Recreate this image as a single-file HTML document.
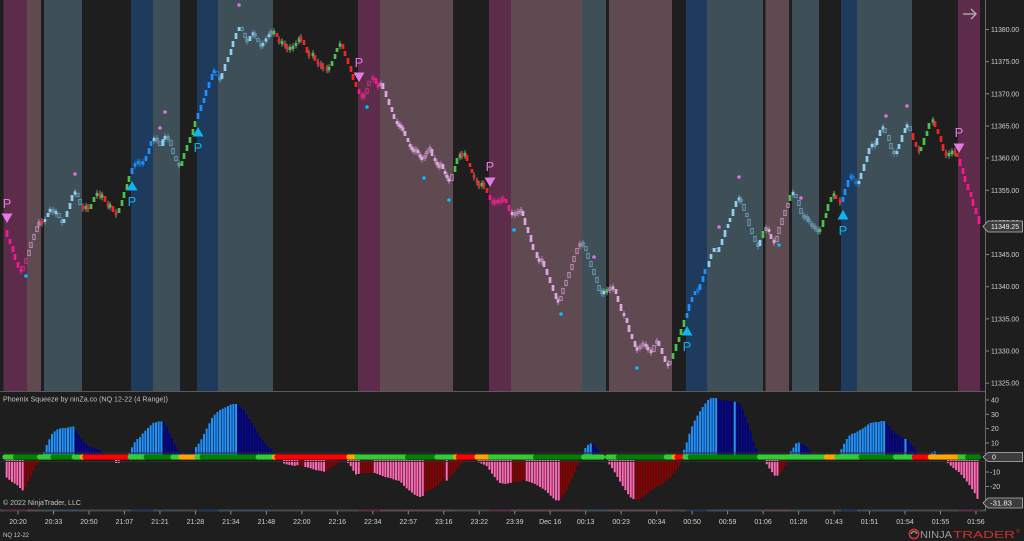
<!DOCTYPE html>
<html><head><meta charset="utf-8">
<style>
html,body{margin:0;padding:0;background:#1e1e1e;width:1024px;height:541px;overflow:hidden}
svg{display:block}
text{font-family:"Liberation Sans",sans-serif}
</style></head><body>
<svg id="c" width="1024" height="541" viewBox="0 0 1024 541" xmlns="http://www.w3.org/2000/svg">
<rect width="1024" height="541" fill="#1e1e1e"/>
<g id="bands"></g>
<g id="strip"></g>
<g id="candles"></g>
<g id="marks"></g>
<g id="hist"></g>
<g id="sq"></g>
<!-- panel lines -->
<line x1="0" y1="391.5" x2="986" y2="391.5" stroke="#5a5a5a" stroke-width="1"/>
<line x1="985.5" y1="0" x2="985.5" y2="511" stroke="#6a6a6a" stroke-width="1"/>
<line x1="0" y1="453" x2="985" y2="453" stroke="#2e2e2e" stroke-width="1"/>
<line x1="0" y1="461.5" x2="985" y2="461.5" stroke="#2e2e2e" stroke-width="1"/>

<!-- top right arrow -->
<g stroke="#b4b4b4" stroke-width="1.3" fill="none">
<line x1="963" y1="14" x2="976" y2="14"/>
<polyline points="971,9 976,14 971,19"/>
</g>

<!-- price axis -->
<g id="paxis" fill="#d0d0d0" font-size="7"></g>
<!-- current price box -->
<polygon points="983,226.5 988,221 1022.5,221 1022.5,232 988,232" fill="#3c3c3c" stroke="#b8b8b8" stroke-width="0.8"/>
<text x="991" y="229" fill="#f0f0f0" font-size="7" textLength="28" lengthAdjust="spacingAndGlyphs">11349.25</text>

<!-- bottom panel labels -->
<text x="3" y="401.5" fill="#c4c4c4" font-size="7.3" textLength="165" lengthAdjust="spacingAndGlyphs">Phoenix Squeeze by ninZa.co (NQ 12-22 (4 Range))</text>
<text x="3" y="505" fill="#c4c4c4" font-size="7.3" textLength="78" lengthAdjust="spacingAndGlyphs">© 2022 NinjaTrader, LLC</text>
<g fill="#d0d0d0" font-size="7">
<line x1="986" y1="400" x2="989" y2="400" stroke="#888"/><text x="991" y="402.5">40</text>
<line x1="986" y1="414.3" x2="989" y2="414.3" stroke="#888"/><text x="991" y="416.8">30</text>
<line x1="986" y1="428.6" x2="989" y2="428.6" stroke="#888"/><text x="991" y="431.1">20</text>
<line x1="986" y1="443" x2="989" y2="443" stroke="#888"/><text x="991" y="445.5">10</text>
<line x1="986" y1="472" x2="989" y2="472" stroke="#888"/><text x="990" y="474.5">-10</text>
<line x1="986" y1="486.5" x2="989" y2="486.5" stroke="#888"/><text x="990" y="489">-20</text>
</g>
<polygon points="983,457 988,452.5 1022.5,452.5 1022.5,461.5 988,461.5" fill="#3c3c3c" stroke="#b8b8b8" stroke-width="0.8"/>
<text x="992" y="459.6" fill="#f0f0f0" font-size="7">0</text>
<polygon points="983,503 988,498 1022.5,498 1022.5,508 988,508" fill="#3c3c3c" stroke="#b8b8b8" stroke-width="0.8"/>
<text x="990" y="505.6" fill="#f0f0f0" font-size="7" textLength="22" lengthAdjust="spacingAndGlyphs">-31.83</text>

<!-- time axis -->
<g id="taxis" fill="#d0d0d0" font-size="7"></g>
<text x="3" y="537" fill="#c8c8c8" font-size="6.3" textLength="26" lengthAdjust="spacingAndGlyphs">NQ 12-22</text>

<!-- logo -->
<g>
<circle cx="914" cy="534" r="4.6" fill="none" stroke="#c23a36" stroke-width="1.6"/>
<path d="M911.5,534 a2.5,2.5 0 0 1 5,0" fill="none" stroke="#9a9a9a" stroke-width="1.3"/>
<text x="920" y="538" fill="#9c9c9c" font-size="10" textLength="32" lengthAdjust="spacingAndGlyphs">NINJA</text>
<text x="953" y="538" fill="#d0302c" font-size="10" textLength="62" lengthAdjust="spacingAndGlyphs">TRADER</text>
<text x="1016" y="533" fill="#d0302c" font-size="5">®</text>
</g>

<!-- P markers (text) -->
<g font-size="13" text-anchor="middle">
<text x="7" y="208" fill="#e27ae2">P</text>
<text x="359" y="67" fill="#e27ae2">P</text>
<text x="490" y="171" fill="#e27ae2">P</text>
<text x="959" y="137" fill="#e27ae2">P</text>
<text x="132" y="206" fill="#10b4f0">P</text>
<text x="198" y="152" fill="#10b4f0">P</text>
<text x="687" y="351" fill="#10b4f0">P</text>
<text x="843" y="235" fill="#10b4f0">P</text>
</g>
</svg>
<script>
(function(){
var NS="http://www.w3.org/2000/svg";
function el(parent,tag,attrs){var e=document.createElementNS(NS,tag);for(var k in attrs)e.setAttribute(k,attrs[k]);parent.appendChild(e);return e;}
var B=[[0,3.5,'d'],[3.5,27,'m'],[27,41,'b'],[41,44,'d'],[44,82,'s'],[82,131,'d'],[131,153,'u'],[153,180,'s'],[180,197,'d'],[197,218,'u'],[218,273,'s'],[273,358,'d'],[358,380,'m'],[380,453,'b'],[453,489,'d'],[489,511,'m'],[511,582,'b'],[582,606,'s'],[606,609,'d'],[609,672,'b'],[672,686,'d'],[686,707,'u'],[707,763,'s'],[763,765.5,'d'],[765.5,789,'b'],[789,792,'d'],[792,819,'s'],[819,841,'d'],[841,857,'u'],[857,912,'s'],[912,958,'d'],[958,980,'m'],[980,983,'d']];
var BC={m:'#5c2c4a',b:'#5e4a50',s:'#3e4f58',u:'#1e3a5c'};
var gb=document.getElementById('bands'),gs=document.getElementById('strip');
B.forEach(function(b){
  if(b[2]!=='d'){el(gb,'rect',{x:b[0],y:0,width:b[1]-b[0],height:391,fill:BC[b[2]]});}
  el(gs,'rect',{x:b[0],y:509.5,width:b[1]-b[0],height:2,fill:b[2]==='d'?'#4a4a4a':BC[b[2]]});
});
el(gs,'rect',{x:983,y:509.5,width:3,height:2,fill:'#4a4a4a'});
function reg(x){for(var i=0;i<B.length;i++){if(x>=B[i][0]&&x<B[i][1])return B[i][2];}return 'd';}

var P=[[4,229],[7,238],[10,245],[13,253],[15,261],[18,269],[21,272],[23,265],[26,257],[29,249],[31,241],[34,233],[37,225],[39,222],[42,223],[45,218],[48,212],[50,209],[53,213],[56,212],[59,219],[62,224],[64,218],[67,210],[70,202],[72,194],[75,192],[78,198],[80,206],[83,209],[86,206],[88,210],[91,203],[94,196],[97,193],[100,197],[102,195],[105,203],[108,207],[110,205],[113,213],[116,214],[119,207],[122,199],[124,191],[127,183],[129,175],[132,167],[135,163],[138,162],[140,164],[143,162],[146,155],[149,147],[151,140],[154,139],[157,140],[160,147],[163,138],[165,137],[168,139],[171,147],[173,155],[176,162],[179,167],[182,160],[184,152],[187,144],[190,136],[193,128],[195,120],[198,112],[201,104],[204,97],[206,89],[209,81],[212,73],[214,70],[217,77],[220,80],[222,72],[225,63],[228,56],[231,48],[233,40],[236,32],[239,26],[242,32],[245,39],[247,42],[250,35],[253,33],[255,37],[258,43],[261,47],[263,42],[266,38],[269,33],[271,33],[274,32],[277,38],[279,43],[282,42],[285,47],[287,49],[290,48],[293,47],[296,42],[299,38],[301,39],[304,46],[307,54],[309,55],[313,54],[315,62],[318,64],[321,66],[323,68],[327,70],[329,67],[332,60],[335,53],[337,47],[340,43],[343,50],[345,57],[348,65],[351,73],[353,81],[356,88],[359,95],[362,97],[364,95],[367,87],[369,80],[373,77],[376,85],[378,87],[381,82],[383,90],[386,98],[389,106],[392,113],[394,120],[397,125],[399,125],[401,128],[403,130],[405,137],[408,143],[410,148],[412,149],[414,152],[416,149],[418,154],[420,158],[422,159],[425,155],[427,150],[430,148],[432,157],[435,162],[437,165],[439,167],[441,163],[443,170],[445,175],[447,178],[449,182],[452,173],[455,165],[457,157],[460,155],[462,155],[465,154],[467,162],[470,168],[472,174],[474,179],[477,184],[479,186],[482,183],[484,187],[487,194],[490,201],[493,203],[495,201],[498,202],[501,200],[503,198],[506,204],[509,212],[512,215],[515,213],[518,212],[521,210],[523,217],[525,226],[528,234],[531,243],[533,251],[537,259],[539,261],[542,260],[544,268],[547,276],[550,284],[553,292],[556,300],[558,302],[561,295],[563,287],[566,279],[569,271],[572,263],[574,255],[577,247],[580,243],[583,245],[586,252],[588,260],[591,268],[594,276],[597,284],[599,292],[602,293],[604,292],[607,290],[610,288],[613,288],[616,295],[618,303],[621,312],[624,317],[627,324],[629,333],[632,340],[635,348],[637,350],[640,345],[643,344],[646,347],[648,350],[651,353],[654,344],[657,340],[659,347],[662,355],[665,363],[668,366],[670,360],[673,352],[676,343],[679,336],[681,328],[684,319],[687,312],[689,303],[692,296],[695,290],[698,291],[700,283],[703,275],[705,268],[709,260],[711,253],[714,247],[717,253],[719,246],[722,238],[725,229],[728,223],[730,217],[733,208],[736,200],[739,198],[741,203],[744,212],[747,218],[749,227],[752,235],[755,243],[758,247],[760,239],[763,230],[766,228],[769,233],[771,240],[774,243],[777,235],[779,226],[782,217],[785,209],[788,202],[790,194],[793,193],[796,199],[799,207],[801,215],[804,218],[807,218],[809,223],[812,227],[815,228],[818,233],[820,228],[823,219],[826,212],[828,203],[831,196],[834,194],[836,200],[840,203],[843,196],[845,188],[848,179],[851,175],[853,180],[856,185],[859,180],[861,172],[864,163],[867,155],[869,147],[872,144],[875,146],[877,137],[880,129],[883,127],[885,134],[889,142],[891,150],[894,155],[897,150],[899,143],[902,134],[905,127],[907,125],[910,132],[913,141],[916,148],[919,152],[921,146],[924,137],[927,130],[929,122],[933,120],[935,128],[938,135],[941,143],[943,152],[946,156],[949,153],[952,152],[955,152],[957,158],[960,167],[963,175],[965,183],[968,191],[971,198],[973,207],[976,215],[979,225]];
var gc=document.getElementById('candles');
var CC={s:['#8fd0f0','#6a9ab0'],u:['#1e90ff','#1a78d8'],b:['#dfa6df','#b88cb8'],m:['#ff1493','#c8307e']};
for(var i=1;i<P.length;i++){
  var x=P[i][0],o=P[i-1][1],c=P[i][1],up=c<o,r=reg(x);
  var lo=Math.min(o,c),hi=Math.max(o,c),d=hi-lo,top,h;
  if(d<5){top=(o+c)/2-1.7;h=3.4;}else{top=lo+1;h=d-2;}
  var fill,filled,wick;
  if(r==='d'){fill=up?'#4cc24c':'#f22424';filled=true;wick='#9a9a9a';}
  else{var cc=CC[r];var bull=(r==='s'||r==='u');filled=bull?up:!up;fill=filled?cc[0]:cc[1];wick=cc[1];}
  if(d<6){el(gc,'line',{x1:x,y1:top-2.5,x2:x,y2:top+h+2.5,stroke:wick,'stroke-width':0.9});}
  if(filled){el(gc,'rect',{x:x-1.35,y:top,width:2.7,height:h,fill:fill});}
  else{el(gc,'rect',{x:x-1.2,y:top+0.4,width:2.4,height:Math.max(h-0.8,2),fill:'none',stroke:fill,'stroke-width':1});}
}
var gm=document.getElementById('marks');
[[239,5],[165,112],[160,128],[75,174],[739,177],[719,227],[801,198],[886,116],[907,106],[594,257]].forEach(function(p){el(gm,'circle',{cx:p[0],cy:p[1],r:1.8,fill:'#e070e0'});});
[[26,276],[367,107],[424,178],[449,200],[514,230],[561,314],[637,368],[779,245]].forEach(function(p){el(gm,'circle',{cx:p[0],cy:p[1],r:1.8,fill:'#00bfff'});});
[[132,186],[198,132],[687,331],[843,215]].forEach(function(p){var x=p[0],y=p[1];el(gm,'polygon',{points:(x-5.5)+','+(y+4.5)+' '+(x+5.5)+','+(y+4.5)+' '+x+','+(y-5),fill:'#10b4f0'});});
[[7,218],[359,77],[490,182],[959,148]].forEach(function(p){var x=p[0],y=p[1];el(gm,'polygon',{points:(x-5.5)+','+(y-4.5)+' '+(x+5.5)+','+(y-4.5)+' '+x+','+(y+5),fill:'#e27ae2'});});

// price axis
var pa=document.getElementById('paxis');
for(var k=0;k<12;k++){var v=11380-5*k;var y=29.5+32.15*k;
  el(pa,'line',{x1:986,y1:y,x2:989,y2:y,stroke:'#888','stroke-width':1});
  var t=el(pa,'text',{x:991,y:y+2.5,textLength:28,lengthAdjust:'spacingAndGlyphs'});t.textContent=v.toFixed(2);}
// time axis
var ta=document.getElementById('taxis');
var TL=['20:20','20:33','20:50','21:07','21:21','21:28','21:34','21:48','22:00','22:16','22:34','22:57','23:16','23:22','23:39','Dec 16','00:13','00:23','00:34','00:50','00:59','01:06','01:26','01:43','01:51','01:54','01:55','01:56'];
TL.forEach(function(s,k){var x=18+35.48*k;
  el(ta,'line',{x1:x,y1:511,x2:x,y2:514.5,stroke:'#888','stroke-width':1});
  var t=el(ta,'text',{x:x,y:524,'text-anchor':'middle'});t.textContent=s;});

// histogram
var gh=document.getElementById('hist');
function interp(p,x){if(x<p[0][0]||x>p[p.length-1][0])return null;for(var i=1;i<p.length;i++){if(x<=p[i][0]){var x0=p[i-1][0],y0=p[i-1][1],x1=p[i][0],y1=p[i][1];return y0+(y1-y0)*(x-x0)/((x1-x0)||1);}}return null;}
var LB='#1e90ff',NV='#00008b',PK='#ff69b4',DR='#8b0000';
function rng(list,def){return function(x){for(var i=0;i<list.length;i++){if(x>=list[i][0]&&x<list[i][1])return list[i][2];}return def;};}
var POS=[
 {p:[[44,452],[45,450],[47,444],[50,438],[52,434],[55,431],[58,429],[62,428],[66,428],[70,427],[73,426],[76,430],[80,437],[83,441],[86,444],[90,447],[95,448],[100,450],[103,453]],c:rng([[0,74.5,LB]],NV)},
 {p:[[129,453],[130,452],[133,445],[136,440],[140,437],[143,433],[147,429],[150,426],[153,423],[157,422],[160,421],[163,422],[165,423],[168,430],[172,438],[175,445],[178,450],[181,453]],c:rng([[0,163,LB]],NV)},
 {p:[[185,452],[190,452],[195,450],[196,447],[200,442],[204,434],[208,426],[212,418],[216,413],[220,410],[224,408],[228,406],[232,404],[236,404],[240,406],[244,410],[248,417],[252,423],[256,430],[260,437],[264,442],[268,447],[272,450],[275,453]],c:rng([[0,194,NV],[194,238,LB]],NV)},
 {p:[[583,452],[586,447],[589,444],[592,443],[595,446],[598,450],[600,452]],c:rng([[0,591,LB]],NV)},
 {p:[[683,452],[684,450],[686,445],[688,438],[690,432],[693,424],[696,418],[699,413],[702,408],[705,404],[708,400],[711,398],[716,398],[718,399],[722,400],[730,401],[737,402],[740,404],[743,410],[746,418],[750,428],[753,440],[756,448],[758,452]],c:rng([[0,717,LB],[733.5,736.5,LB]],NV)},
 {p:[[790,452],[792,450],[795,445],[797,442],[800,443],[804,445],[808,448],[812,452]],c:rng([[0,799,LB]],NV)},
 {p:[[841,450],[842,448],[845,442],[848,437],[851,434],[855,433],[860,430],[865,427],[870,423],[875,422],[880,422],[883,420],[886,423],[890,427],[893,432],[898,435],[903,438],[908,440],[912,445],[916,450],[917,452]],c:rng([[0,885,LB],[904,906.5,LB]],NV)},
 {p:[[930,453],[931,453],[934,451],[937,452],[940,453],[943,454]],c:rng([[0,936,LB]],NV)}
];
var NEG=[
 {p:[[6,477],[12,482],[17,485],[22,490],[24,491],[26,485],[30,478],[33,471],[36,465],[40,462]],c:rng([[0,25,PK]],DR)},
 {p:[[115,463],[119,463]],c:rng([],PK)},
 {p:[[283,463],[285,464],[290,465],[295,466],[298,465],[302,466],[305,467],[310,468],[315,470],[322,471],[325,472],[330,468],[335,465],[340,462]],c:rng([[299.5,304,DR],[326,999,DR]],PK)},
 {p:[[346,462],[347,462],[350,465],[353,470],[355,474],[357,475],[360,473],[373,473],[375,473],[380,475],[385,477],[390,478],[395,480],[400,481],[405,487],[410,491],[415,495],[420,497],[422,497],[425,493],[430,490],[435,487],[440,483],[444.5,478],[446,483],[447.5,478],[450,477],[455,471],[460,465],[464,462]],c:rng([[0,359,PK],[359,374,DR],[374,423,PK],[445,447.3,PK]],DR)},
 {p:[[478,462],[480,463],[485,465],[488,467],[490,471],[493,475],[497,480],[500,483],[505,484],[510,483],[514,482],[518,482],[524,480],[526,481],[530,482],[535,484],[540,487],[545,490],[550,495],[555,500],[558,501],[562,498],[566,492],[570,483],[574,474],[578,465],[579,463]],c:rng([[0,513,PK],[513,525,DR],[525,560,PK]],DR)},
 {p:[[607,462],[610,465],[614,471],[618,478],[622,485],[626,491],[630,497],[635,500],[638,500],[642,498],[648,493],[655,488],[662,484],[670,478],[675,472],[680,465]],c:rng([[0,636,PK]],DR)},
 {p:[[765,462],[766,463],[769,468],[772,472],[775,476],[777,476],[780,473],[784,468],[788,462]],c:rng([[0,778,PK]],DR)},
 {p:[[947,462],[948,463],[952,467],[956,470],[960,473],[964,478],[968,483],[972,489],[976,495],[979,503],[980,505]],c:rng([],PK)}
];
for(var i=0;i<370;i++){var x=4+2.667*i;if(x>981)break;
  POS.forEach(function(s){var t=interp(s.p,x);if(t!==null&&t<455){el(gh,'rect',{x:x-1,y:t,width:2,height:455-t,fill:s.c(x)});}});
  NEG.forEach(function(s){var t=interp(s.p,x);if(t!==null&&t>460){el(gh,'rect',{x:x-1,y:460,width:2,height:t-460,fill:s.c(x)});}});
}
// squeeze dots
var LG='#32cd32',DG='#008000',R='#ff0000',O='#ffa500';
var SQ=[[0,15,LG],[15,38,DG],[38,51,LG],[51,73,DG],[73,82,LG],[82,84,O],[84,128,R],[128,145,LG],[145,172,DG],[172,180,LG],[180,196,O],[196,200,LG],[200,256,DG],[256,273,LG],[273,275.5,O],[275.5,348,R],[348,357,O],[357,407,LG],[407,436,DG],[436,455,LG],[455,458,O],[458,475,R],[475,488,O],[488,535,LG],[535,582,DG],[582,603,LG],[603,606,null],[606,617,LG],[617,666,DG],[666,672,LG],[672,677,O],[677,683,R],[683,690,LG],[690,758,DG],[758,824,LG],[824,835,O],[835,860,LG],[860,895,DG],[895,912,LG],[912,913.5,O],[913.5,928,R],[928,958,O],[958,966,LG],[966,983,DG]];
var gq=document.getElementById('sq');
for(var i=0;i<370;i++){var x=5+2.667*i;if(x>981)break;
  var col=null;for(var j=0;j<SQ.length;j++){if(x>=SQ[j][0]&&x<SQ[j][1]){col=SQ[j][2];break;}}
  if(col)el(gq,'circle',{cx:x,cy:457,r:2.7,fill:col});}
})();
</script>
</body></html>
